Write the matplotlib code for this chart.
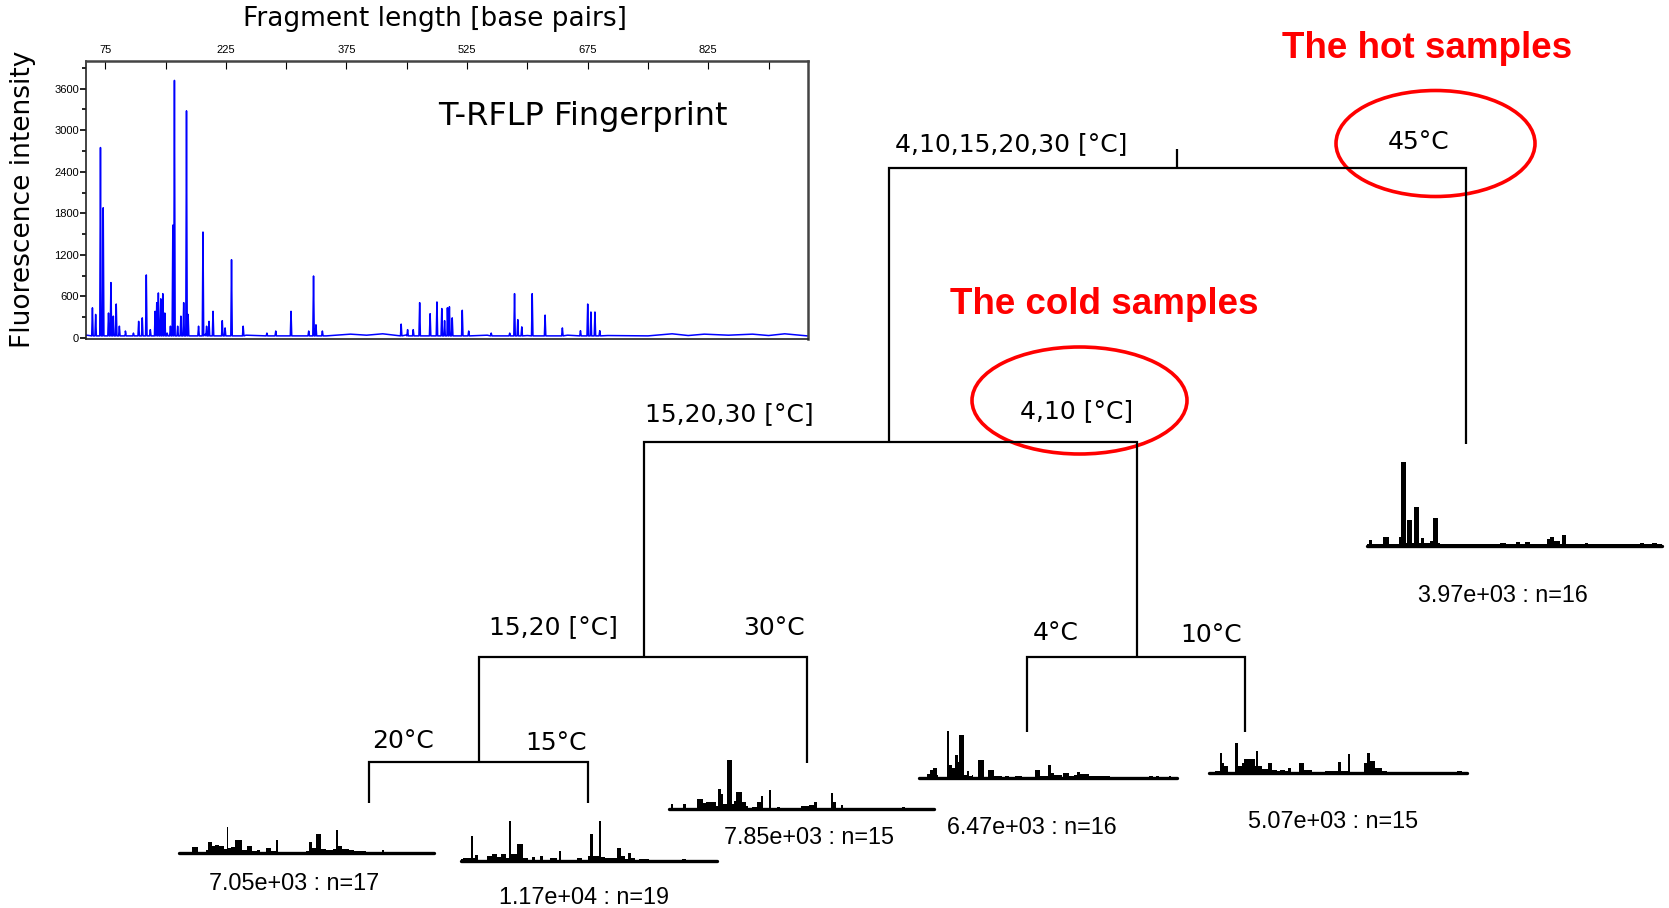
import numpy as np
import matplotlib
matplotlib.use("Agg")
import matplotlib.pyplot as plt
from matplotlib.patches import Ellipse
from matplotlib.ticker import FixedLocator
from matplotlib import font_manager

# ---------------- data ----------------
# T-RFLP fingerprint (inset): peaks
peak_bp = [59, 63, 69, 72.4, 79, 82, 85, 88.6, 92.5, 100, 110, 116.5, 121, 126, 131,
           137, 139, 141, 144, 146.5, 149, 152, 156, 159, 161, 165, 169, 172.5, 176, 178,
           191, 196.5, 201, 204, 209, 220.5, 224, 232, 246.5, 276, 287, 306, 328, 334,
           337, 345, 443, 451, 458, 466, 479, 487.5, 493.5, 497, 500.5, 503, 506.5, 519,
           527, 555, 578, 584, 588, 593, 606, 622, 643.5, 666, 675, 679, 684, 690]
peak_int = [435, 340, 2750, 1880, 360, 800, 315, 490, 170, 100, 70, 240, 290, 910, 120,
            385, 510, 650, 565, 640, 360, 70, 170, 1630, 3720, 170, 315, 510, 3280, 340,
            170, 1530, 170, 240, 385, 250, 145, 1130, 170, 70, 100, 385, 100, 895,
            190, 100, 200, 120, 120, 510, 350, 520, 425, 250, 435, 450, 290, 400,
            100, 70, 70, 640, 265, 160, 640, 330, 145, 105, 490, 375, 375, 105]
base_bp = [52, 100, 150, 200, 250, 300, 350, 380, 400, 420, 450, 500, 550, 600, 650, 700,
           750, 780, 800, 820, 850, 880, 900, 920, 948]
base_int = [40, 60, 70, 60, 40, 30, 30, 55, 40, 60, 45, 50, 40, 35, 40, 35,
            30, 60, 35, 55, 40, 55, 35, 60, 30]

x_ticks = [75, 225, 375, 525, 675, 825]
y_ticks = [0, 600, 1200, 1800, 2400, 3000, 3600]

# split labels of the regression tree
split_labels = ["4,10,15,20,30 [°C]", "45°C", "15,20,30 [°C]", "4,10 [°C]",
                "15,20 [°C]", "30°C", "4°C", "10°C", "20°C", "15°C"]

# leaf profiles: step edges (% of width) and heights (% of leaf max)
hot_edges = [0, 0.6, 1.7, 5.4, 7.3, 10.7, 11.5, 13.2, 13.6, 15.3, 15.8, 17.6, 18.4, 19.4,
             21.5, 22.3, 24.2, 24.9, 45.2, 47.2, 50.6, 52, 53.7, 55.4, 61, 62.1, 63.3,
             65.5, 66.1, 67.5, 74, 75, 92.7, 93.8, 96.6, 98.3, 100]
hot_vals = [2.4, 6.7, 2, 11, 2.4, 11, 100, 4, 31, 4, 46, 3, 10, 3, 6, 33, 4, 2, 3.6, 2,
            5, 2.8, 5, 2.4, 8, 11, 5.6, 2.4, 13, 2.4, 4, 2.4, 3.6, 2.4, 4, 2.4]

c20_edges = [0, 5.2, 7.5, 10.5, 11.4, 13.1, 14.1, 15.7, 17.6, 18.7, 19.3, 20.3, 22, 24.8,
             26.8, 28.8, 30.7, 31.6, 34, 35.9, 38.2, 39, 49.7, 51, 52, 53.6, 55.6, 57.5,
             59.5, 60.4, 61.4, 62.2, 64, 66.7, 68.6, 73.2, 79.7, 80.4, 100]
c20_vals = [0, 22, 4, 10, 42, 28, 32, 26, 15, 100, 19, 23, 50, 13, 28, 6, 13, 5, 18, 6,
            51, 0, 6, 42, 19, 74, 15, 10, 10, 15, 90, 26, 17, 10, 9, 3, 10, 0]

c15_edges = [0, 0.9, 3.9, 4.8, 5.5, 6.5, 10, 12, 14, 15.6, 17.5, 18.8, 19.6, 21.8, 24.4,
             26.3, 27.9, 28.9, 30.9, 31.9, 34.8, 37.4, 38.3, 39.1, 45.2, 47.2, 49.8, 50.2,
             51.6, 54, 54.6, 56.3, 57.4, 60.9, 62.6, 64.1, 65.4, 66.5, 68.1, 69.4, 73.3,
             86.3, 87.9, 100]
c15_vals = [4, 8, 62, 8, 15, 3, 12, 18, 10, 17, 8, 100, 17, 42, 7, 3, 10, 3, 12, 2.5,
            7, 2.5, 25, 1.5, 7, 3, 12, 67, 12, 100, 10, 8, 7, 33, 12, 5, 21, 7, 3, 5,
            0, 5, 0]

c30_edges = [0, 0.6, 1.5, 5.3, 6.5, 10.4, 13, 13.8, 17.6, 18.6, 19.5, 20.4, 22, 23.9,
             24.5, 25.4, 27.7, 28.9, 29.9, 31.4, 33.3, 34.6, 35.5, 37.7, 38.6, 40.9, 41.8,
             49.7, 52.8, 54.7, 56, 61, 61.9, 62.9, 64.8, 65.8, 88, 89, 100]
c30_vals = [2, 10, 2, 10, 3, 20, 12, 14, 7, 41, 30, 10, 100, 10, 17, 34, 15, 7, 3, 5,
            14, 27, 2, 39, 2, 5, 1, 7, 8, 15, 1.5, 32, 15, 3, 8, 1, 5, 0]

c4_edges = [0, 3, 4.3, 5.6, 6.9, 7.2, 10.7, 11.8, 12.7, 14, 15, 15.5, 17.6, 18.5, 19.5,
            20.4, 21.1, 22.8, 25, 26.9, 29.1, 30.1, 32.1, 33.4, 34.7, 37.3, 39.8, 45, 47,
            49.9, 51.2, 52.5, 55.4, 56, 58, 59.9, 61.2, 62.5, 65.7, 68.3, 74.1, 89, 90.6,
            91.8, 92.9, 96.8, 97.8, 100]
c4_vals = [2, 8, 18, 21, 7, 1.5, 100, 28, 21, 49, 35, 92, 7, 15, 3.5, 7, 1.5, 39, 2, 18,
           4, 3.5, 2, 4, 3, 3.5, 1.5, 18, 4, 27, 11, 7, 3, 11, 3.5, 7, 13, 8, 4, 3.5,
           1, 4, 1.5, 3.5, 1.5, 5, 1]

c10_edges = [0, 2.3, 4.3, 5.2, 6, 7.2, 10.1, 11.4, 12.7, 13.7, 17.9, 18.2, 19.1, 20.4,
             23, 24.3, 26.3, 27.6, 29.5, 30.8, 31.8, 34.9, 37, 39.8, 45, 49.9, 51.2, 53.8,
             54.7, 59.9, 61.2, 62.5, 64.4, 67, 69, 76.1, 96.1, 98.1, 100]
c10_vals = [3, 7, 68, 34, 23, 5, 100, 23, 34, 48, 23, 74, 23, 14, 32, 11, 6, 11, 6, 17,
            5, 32, 9, 2, 7, 36, 7, 62, 5, 34, 68, 40, 17, 7, 5, 3, 8, 2]

leaf_labels = ["3.97e+03 : n=16", "7.05e+03 : n=17", "1.17e+04 : n=19",
               "7.85e+03 : n=15", "6.47e+03 : n=16", "5.07e+03 : n=15"]
leaf_profiles = [(hot_edges, hot_vals), (c20_edges, c20_vals), (c15_edges, c15_vals),
                 (c30_edges, c30_vals), (c4_edges, c4_vals), (c10_edges, c10_vals)]

# ---------------- layout (pixels) ----------------
W, H = 1669, 908
names = {f.name for f in font_manager.fontManager.ttflist}
narrow = "Liberation Sans Narrow" if "Liberation Sans Narrow" in names else "Liberation Sans"

fig = plt.figure(figsize=(W / 100, H / 100), dpi=100)
ax = fig.add_axes([0, 0, 1, 1])
ax.set_xlim(0, W)
ax.set_ylim(H, 0)
ax.axis("off")

# tree branches
branch_lw = 1.6
segs = [
    ([1177, 1177], [149, 168]),
    ([889, 889, 1466, 1466], [442, 168, 168, 444]),
    ([644, 644, 1137, 1137], [657, 442, 442, 657]),
    ([479, 479, 807, 807], [762, 657, 657, 763]),
    ([1027, 1027, 1245, 1245], [732, 657, 657, 732]),
    ([369, 369, 588, 588], [803, 762, 762, 803]),
]
for xs, ys in segs:
    ax.plot(xs, ys, color="black", lw=branch_lw, solid_capstyle="butt", solid_joinstyle="miter")

label_pos = [(1011, 144), (1419, 142), (729, 414), (1077, 411), (553, 627),
             (774, 628), (1056, 633), (1211, 635), (403, 741), (556, 743)]
for txt, (x, y) in zip(split_labels, label_pos):
    ax.text(x, y, txt, ha="center", va="center", fontsize=18, family="DejaVu Sans")

# red annotations
ax.text(1427, 48, "The hot samples", ha="center", va="center", fontsize=26.5,
        fontweight="bold", color="#ff0000", family="Liberation Sans")
ax.text(1104, 305, "The cold samples", ha="center", va="center", fontsize=26.5,
        fontweight="bold", color="#ff0000", family="Liberation Sans")
ax.add_patch(Ellipse((1435.5, 143.5), 199, 106, fill=False, ec="#ff0000", lw=2.6))
ax.add_patch(Ellipse((1079.5, 400.5), 215, 107, fill=False, ec="#ff0000", lw=2.6))

# leaves
leaf_geom = [(1367, 1662, 546, 84), (179, 434, 853, 26), (461, 717, 861, 40),
             (669, 934, 809, 49), (919, 1177, 778, 47), (1209, 1467, 773, 30)]
leaf_text_pos = [(1503, 595), (294, 883), (584, 897), (809, 837), (1032, 828), (1333, 821)]
for (edges, vals), (x0, x1, base, hmax), lab, (tx, ty) in zip(
        leaf_profiles, leaf_geom, leaf_labels, leaf_text_pos):
    la = fig.add_axes([x0 / W, 1 - base / H, (x1 - x0) / W, hmax / H])
    la.set_xlim(0, 100)
    la.set_ylim(0, 100)
    la.axis("off")
    la.stairs(vals, edges, baseline=0, fill=True, color="black", lw=1.0)
    la.plot([0, 100], [0, 0], color="black", lw=2.4, clip_on=False, solid_capstyle="round")
    ax.text(tx, ty, lab, ha="center", va="center", fontsize=16.8, family="Liberation Sans")

# inset fingerprint
pts = list(zip(base_bp, base_int))
for b, h in zip(peak_bp, peak_int):
    pts += [(b - 0.9, 30), (b, h), (b + 0.9, 30)]
pts.sort()
tx_, ty_ = zip(*pts)
x_l, x_r, y_t, y_b = 86, 808, 61, 339
axi = fig.add_axes([x_l / W, 1 - y_b / H, (x_r - x_l) / W, (y_b - y_t) / H])
axi.plot(tx_, ty_, color="#0000ff", lw=1.1)
axi.set_xlim(51, 949)
axi.set_ylim(-15, 4000)
axi.xaxis.tick_top()
axi.xaxis.set_major_locator(FixedLocator(x_ticks))
axi.xaxis.set_minor_locator(FixedLocator(list(range(150, 950, 150))))
axi.yaxis.set_major_locator(FixedLocator(y_ticks))
axi.yaxis.set_minor_locator(FixedLocator(list(range(300, 4000, 600))))
axi.tick_params(axis="x", which="both", direction="in", length=6, width=0.8,
                labelsize=8, pad=4, top=True, bottom=False)
axi.tick_params(axis="y", which="major", direction="out", length=4, width=1.2, labelsize=8, pad=1)
axi.tick_params(axis="y", which="minor", direction="out", length=3, width=1.2)
for lbl in axi.get_xticklabels() + axi.get_yticklabels():
    lbl.set_family(narrow)
for s in ["top", "right"]:
    axi.spines[s].set_color("#444444")
    axi.spines[s].set_linewidth(1.8)
for s in ["left", "bottom"]:
    axi.spines[s].set_color("#222222")
    axi.spines[s].set_linewidth(1.2)

fig.text(583 / W, 1 - 117 / H, "T-RFLP Fingerprint", ha="center", va="center",
         fontsize=23, family="DejaVu Sans")
fig.text(435 / W, 1 - 19 / H, "Fragment length [base pairs]", ha="center", va="center",
         fontsize=19, family="DejaVu Sans")
fig.text(23 / W, 1 - 199 / H, "Fluorescence intensity", ha="center", va="center",
         rotation=90, fontsize=19, family="DejaVu Sans")

fig.savefig("out.png", dpi=100)
